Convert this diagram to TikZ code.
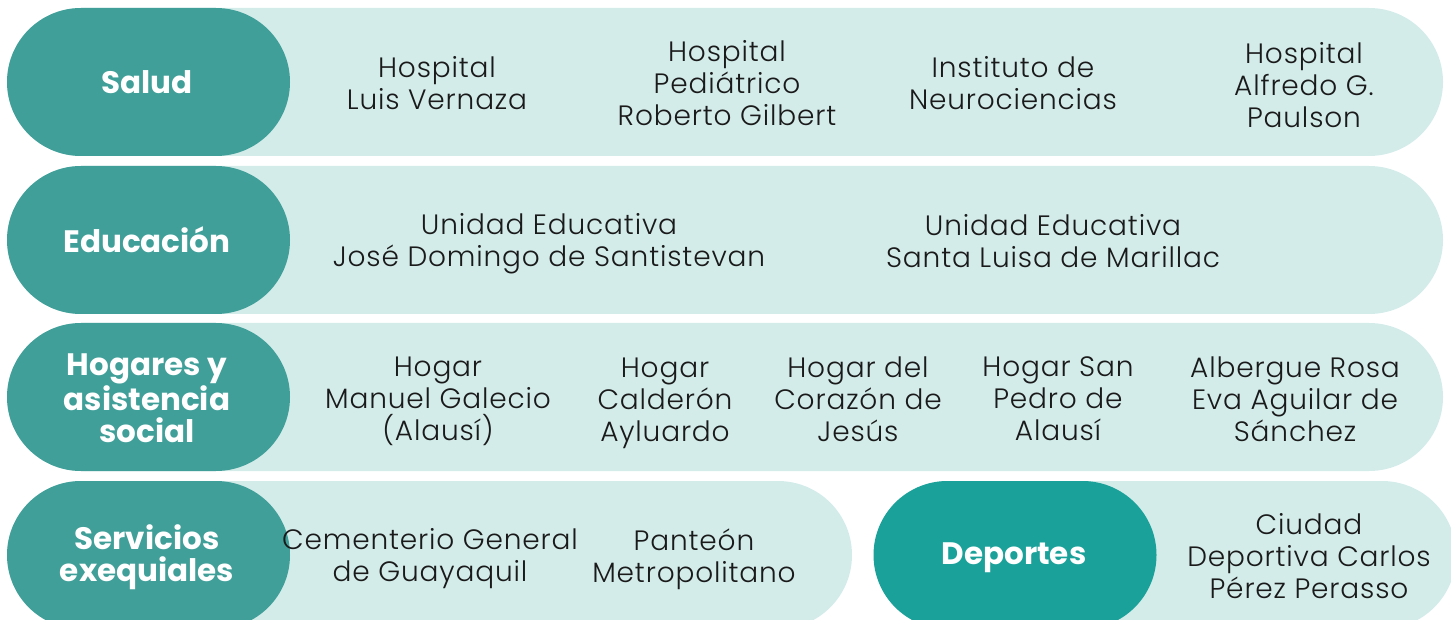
\documentclass[tikz,border=0pt]{standalone}
\usepackage{fontspec}
\setmainfont{Poppins Light}[BoldFont=Poppins Bold]
\newfontfamily\itemfont{Poppins Light}[LetterSpace=3]
\usetikzlibrary{shapes.misc}
\definecolor{darkteal}{HTML}{409F99}
\definecolor{sportteal}{HTML}{1AA19A}
\definecolor{lightteal}{HTML}{D3ECEA}
\definecolor{txt}{HTML}{1A1A1A}
\tikzset{
  pill/.style={rounded rectangle, fill=darkteal, draw=none, minimum height=74pt, minimum width=141.5pt, inner sep=0pt},
  head/.style={text=white, font=\bfseries\fontsize{15.5}{16}\selectfont, align=center, inner sep=0pt},
  bar/.style={rounded rectangle, fill=lightteal, draw=none, minimum height=74pt, inner sep=0pt},
  item/.style={text=txt, font=\itemfont\fontsize{14}{16}\selectfont, align=center, inner sep=0pt}
}
\begin{document}
\begin{tikzpicture}[x=0.5pt,y=-0.5pt]
\useasboundingbox (0,0) rectangle (1451,620);
\clip (0,0) rectangle (1451,620);
% row 1
\node[bar, minimum width=718pt] (bar1) at (725,82) {};
\node[pill] (salud) at (148.5,82) {};
\node[head] (saludt) at (147,82) {Salud};
\node[item] (s1) at (437,83) {Hospital\\Luis Vernaza};
\node[item] (s2) at (727,83) {Hospital\\Pediátrico\\Roberto Gilbert};
\node[item] (s3) at (1013,83) {Instituto de\\Neurociencias};
\node[item] (s4) at (1304,85) {Hospital\\Alfredo G.\\Paulson};
% row 2
\node[bar, minimum width=718pt] (bar2) at (725,240) {};
\node[pill] (educ) at (148.5,240) {};
\node[head] (educt) at (147,240) {Educación};
\node[item] (e1) at (549,244) {Unidad Educativa\\José Domingo de Santistevan};
\node[item] (e2) at (1053,241) {Unidad Educativa\\Santa Luisa de Marillac};
% row 3
\node[bar, minimum width=718pt] (bar3) at (725,397) {};
\node[pill] (hog) at (148.5,397) {};
\node[head] (hogt) at (147,398) {Hogares y\\asistencia\\social};
\node[item] (h1) at (438,401.5) {Hogar\\Manuel Galecio\\(Alausí)};
\node[item] (h2) at (665,403) {Hogar\\Calderón\\Ayluardo};
\node[item] (h3) at (858,399) {Hogar del\\Corazón de\\Jesús};
\node[item] (h4) at (1058,399) {Hogar San\\Pedro de\\Alausí};
\node[item] (h5) at (1295,399) {Albergue Rosa\\Eva Aguilar de\\Sánchez};
% row 4
\node[bar, minimum width=422.5pt] (bar4a) at (429.5,555) {};
\node[pill] (serv) at (148.5,555) {};
\node[head] (servt) at (147,557) {Servicios\\exequiales};
\node[item] (v1) at (430,559) {Cementerio General\\de Guayaquil};
\node[item] (v2) at (694,559) {Panteón\\Metropolitano};
\node[bar, minimum width=291pt] (bar4b) at (1165,555) {};
\node[pill, fill=sportteal] (dep) at (1015,555) {};
\node[head] (dept) at (1014,558) {Deportes};
\node[item] (d1) at (1309,556) {Ciudad\\Deportiva Carlos\\Pérez Perasso};
\end{tikzpicture}
\end{document}
